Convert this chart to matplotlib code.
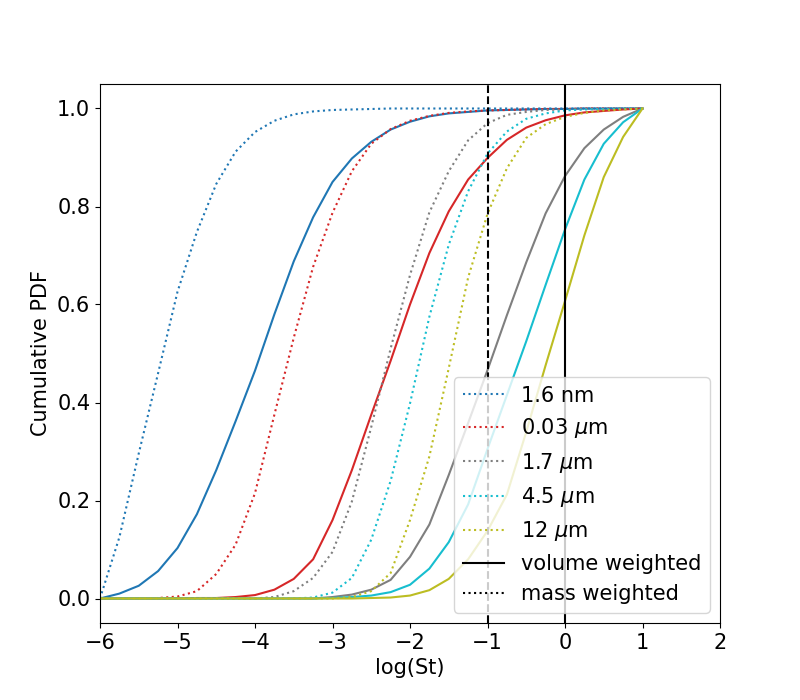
import matplotlib
matplotlib.use("Agg")
import matplotlib.pyplot as plt
from matplotlib.lines import Line2D

plt.rcParams['font.size'] = 15

# log(St) grid the curves were read on
log_st = [-6.00, -5.75, -5.50, -5.25, -5.00, -4.75, -4.50, -4.25, -4.00, -3.75,
          -3.50, -3.25, -3.00, -2.75, -2.50, -2.25, -2.00, -1.75, -1.50, -1.25,
          -1.00, -0.75, -0.50, -0.25, 0.00, 0.25, 0.50, 0.75, 1.00]

sizes = ["1.6 nm", r"0.03 $\mu$m", r"1.7 $\mu$m", r"4.5 $\mu$m", r"12 $\mu$m"]
colors = ["tab:blue", "tab:red", "tab:gray", "tab:cyan", "tab:olive"]

# mass weighted cumulative PDF (dotted)
mass_16nm = [0.000, 0.125, 0.296, 0.460, 0.626, 0.748, 0.846, 0.912, 0.952, 0.975,
             0.988, 0.994, 0.997, 0.998, 0.999, 1.0, 1.0, 1.0, 1.0, 1.0,
             1.0, 1.0, 1.0, 1.0, 1.0, 1.0, 1.0, 1.0, 1.0]
mass_003um = [0.0, 0.0, 0.0, 0.001, 0.004, 0.015, 0.050, 0.110, 0.215, 0.375,
              0.532, 0.677, 0.787, 0.872, 0.928, 0.958, 0.975, 0.985, 0.991, 0.994,
              0.996, 0.997, 0.998, 0.999, 0.999, 1.0, 1.0, 1.0, 1.0]
mass_17um = [0.0, 0.0, 0.0, 0.0, 0.0, 0.0, 0.0, 0.0, 0.000, 0.003,
             0.015, 0.042, 0.095, 0.198, 0.350, 0.510, 0.660, 0.788, 0.872, 0.935,
             0.970, 0.987, 0.993, 0.997, 0.998, 0.999, 0.999, 1.0, 1.0]
mass_45um = [0.0, 0.0, 0.0, 0.0, 0.0, 0.0, 0.0, 0.0, 0.0, 0.0,
             0.000, 0.002, 0.012, 0.042, 0.120, 0.240, 0.398, 0.575, 0.722, 0.831,
             0.908, 0.953, 0.979, 0.990, 0.996, 0.998, 0.999, 1.0, 1.0]
mass_12um = [0.0, 0.0, 0.0, 0.0, 0.0, 0.0, 0.0, 0.0, 0.0, 0.0,
             0.0, 0.0, 0.000, 0.003, 0.015, 0.052, 0.160, 0.290, 0.470, 0.655,
             0.785, 0.878, 0.940, 0.968, 0.983, 0.991, 0.996, 0.998, 1.0]

# volume weighted cumulative PDF (solid)
vol_16nm = [0.000, 0.010, 0.026, 0.056, 0.103, 0.172, 0.262, 0.362, 0.465, 0.580,
            0.688, 0.778, 0.850, 0.898, 0.932, 0.957, 0.973, 0.984, 0.990, 0.993,
            0.996, 0.997, 0.998, 0.999, 0.999, 1.0, 1.0, 1.0, 1.0]
vol_003um = [0.0, 0.0, 0.0, 0.0, 0.000, 0.001, 0.001, 0.003, 0.007, 0.018,
             0.040, 0.080, 0.160, 0.262, 0.375, 0.485, 0.600, 0.705, 0.790, 0.855,
             0.899, 0.936, 0.961, 0.976, 0.986, 0.992, 0.995, 0.998, 1.0]
vol_17um = [0.0, 0.0, 0.0, 0.0, 0.0, 0.0, 0.0, 0.0, 0.0, 0.0,
            0.0, 0.0, 0.003, 0.008, 0.018, 0.038, 0.085, 0.151, 0.252, 0.358,
            0.466, 0.578, 0.686, 0.786, 0.862, 0.919, 0.957, 0.983, 1.0]
vol_45um = [0.0, 0.0, 0.0, 0.0, 0.0, 0.0, 0.0, 0.0, 0.0, 0.0,
            0.0, 0.0, 0.001, 0.003, 0.006, 0.013, 0.028, 0.061, 0.115, 0.192,
            0.305, 0.415, 0.525, 0.640, 0.753, 0.855, 0.928, 0.972, 1.0]
vol_12um = [0.0, 0.0, 0.0, 0.0, 0.0, 0.0, 0.0, 0.0, 0.0, 0.0,
            0.0, 0.0, 0.000, 0.000, 0.001, 0.002, 0.006, 0.017, 0.040, 0.080,
            0.138, 0.212, 0.340, 0.476, 0.607, 0.741, 0.860, 0.942, 1.0]

mass_curves = [mass_16nm, mass_003um, mass_17um, mass_45um, mass_12um]
vol_curves = [vol_16nm, vol_003um, vol_17um, vol_45um, vol_12um]

fig, ax = plt.subplots(figsize=(8, 7), dpi=100)

for label, c, m, v in zip(sizes, colors, mass_curves, vol_curves):
    ax.plot(log_st, m, ':', color=c, label=label)
    ax.plot(log_st, v, '-', color=c)

ax.axvline(-1, color='k', ls='--')
ax.axvline(0, color='k', ls='-')

ax.set_xlim(-6, 2)
ax.set_xlabel("log(St)")
ax.set_ylabel("Cumulative PDF")

handles, labels = ax.get_legend_handles_labels()
handles += [Line2D([], [], color='k', ls='-'), Line2D([], [], color='k', ls=':')]
labels += ["volume weighted", "mass weighted"]
ax.legend(handles, labels, loc='lower right')

plt.savefig("out.png")
